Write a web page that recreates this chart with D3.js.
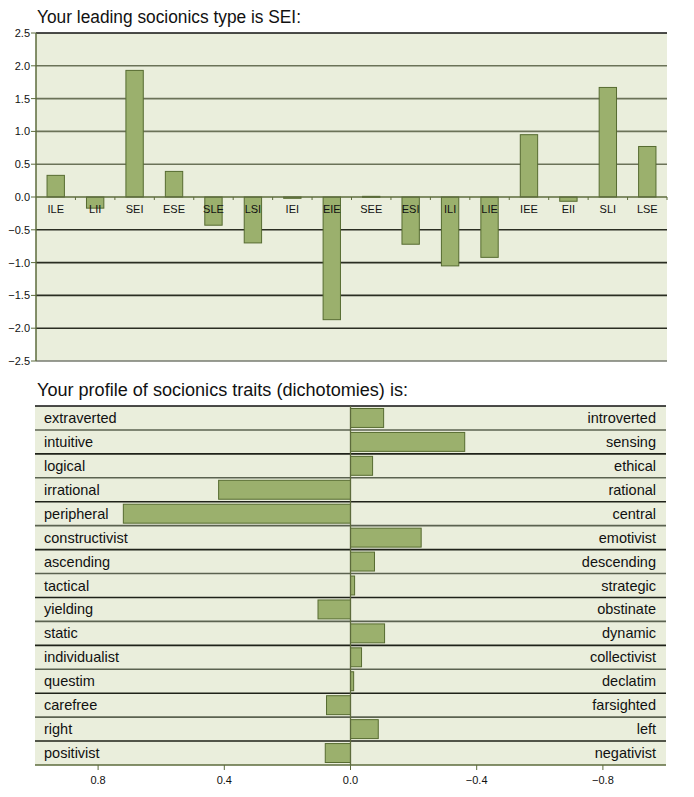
<!DOCTYPE html>
<html>
<head>
<meta charset="utf-8">
<script src="https://cdn.jsdelivr.net/npm/d3@7/dist/d3.min.js"></script>
<style>
  body { margin: 0; background: #fff; }
  svg { display: block; font-family: "Liberation Sans", Arial, sans-serif; }
</style>
</head>
<body>
<div id="chart"></div>
<script>
const types = ["ILE", "LII", "SEI", "ESE", "SLE", "LSI", "IEI", "EIE", "SEE", "ESI", "ILI", "LIE", "IEE", "EII", "SLI", "LSE"];
const typeScores = [0.33, -0.17, 1.93, 0.39, -0.43, -0.70, -0.02, -1.87, 0.01, -0.72, -1.05, -0.92, 0.95, -0.065, 1.67, 0.77];
const typeTicks = [2.5, 2.0, 1.5, 1.0, 0.5, 0.0, -0.5, -1.0, -1.5, -2.0, -2.5];

const leftTraits = ["extraverted", "intuitive", "logical", "irrational", "peripheral", "constructivist", "ascending", "tactical", "yielding", "static", "individualist", "questim", "carefree", "right", "positivist"];
const rightTraits = ["introverted", "sensing", "ethical", "rational", "central", "emotivist", "descending", "strategic", "obstinate", "dynamic", "collectivist", "declatim", "farsighted", "left", "negativist"];
const traitScores = [-0.105, -0.362, -0.07, 0.418, 0.72, -0.224, -0.076, -0.013, 0.103, -0.108, -0.035, -0.01, 0.076, -0.088, 0.08];
const traitTicks = [0.8, 0.4, 0.0, -0.4, -0.8];

const W = 694, H = 797;
const bg = "#eaeedc", barFill = "#9bb06d", barStroke = "#566b30", axisCol = "#5d6b3c";

const svg = d3.select("#chart").append("svg").attr("width", W).attr("height", H);

// ---- top chart: type scores
const tp = { l: 36, r: 667, t: 33, b: 361 };
svg.append("text").attr("x", 37).attr("y", 23).attr("font-size", 17.5).attr("fill", "#111")
  .attr("textLength", 264).attr("lengthAdjust", "spacingAndGlyphs")
  .text("Your leading socionics type is SEI:");

const x1 = d3.scaleBand().domain(types).range([tp.l, tp.r]).paddingInner(0.56).paddingOuter(0.28);
const xb = d3.scaleBand().domain(types).range([tp.l, tp.r]);
const y1 = d3.scaleLinear().domain([-2.5, 2.5]).range([tp.b, tp.t]);

svg.append("rect").attr("x", tp.l).attr("y", tp.t).attr("width", tp.r - tp.l).attr("height", tp.b - tp.t).attr("fill", bg);

svg.append("g").selectAll("line").data(typeTicks.filter((d) => d !== 0 && d !== 2.5 && d !== -2.5)).join("line")
  .attr("x1", tp.l).attr("x2", tp.r).attr("y1", (d) => y1(d)).attr("y2", (d) => y1(d))
  .attr("stroke", (d) => d > 0 ? "#6b7258" : "#2a2d22").attr("stroke-width", 1.6);
svg.append("line").attr("x1", tp.l).attr("x2", tp.r).attr("y1", y1(2.5)).attr("y2", y1(2.5)).attr("stroke", "#111").attr("stroke-width", 1.3);
svg.append("line").attr("x1", tp.l).attr("x2", tp.r).attr("y1", y1(-2.5)).attr("y2", y1(-2.5)).attr("stroke", "#777b70").attr("stroke-width", 1.6);

svg.append("g").selectAll("rect").data(types).join("rect")
  .attr("x", (d) => x1(d)).attr("width", x1.bandwidth())
  .attr("y", (d, i) => y1(Math.max(0, typeScores[i])))
  .attr("height", (d, i) => Math.max(1, Math.abs(y1(typeScores[i]) - y1(0))))
  .attr("fill", barFill).attr("stroke", barStroke).attr("stroke-width", 1);

// zero axis with band ticks
svg.append("line").attr("x1", tp.l).attr("x2", tp.r).attr("y1", y1(0)).attr("y2", y1(0)).attr("stroke", axisCol).attr("stroke-width", 1.3);
svg.append("g").selectAll("line").data(types).join("line")
  .attr("x1", (d) => xb(d) + xb.bandwidth()).attr("x2", (d) => xb(d) + xb.bandwidth())
  .attr("y1", y1(0)).attr("y2", y1(0) + 3).attr("stroke", axisCol);

svg.append("g").selectAll("text").data(types).join("text")
  .attr("x", (d) => xb(d) + xb.bandwidth() / 2).attr("y", y1(0) + 16)
  .attr("text-anchor", "middle").attr("font-size", 11).attr("fill", "#111").text((d) => d);

// left axis
svg.append("line").attr("x1", tp.l).attr("x2", tp.l).attr("y1", tp.t).attr("y2", tp.b).attr("stroke", axisCol).attr("stroke-width", 1.5);
const yAx = svg.append("g").selectAll("g").data(typeTicks).join("g");
yAx.append("line").attr("x1", tp.l - 5).attr("x2", tp.l).attr("y1", (d) => y1(d)).attr("y2", (d) => y1(d)).attr("stroke", axisCol);
yAx.append("text").attr("x", tp.l - 6).attr("y", (d) => y1(d) + 4).attr("text-anchor", "end")
  .attr("font-size", 11).attr("fill", "#111").text((d) => d3.format(".1f")(d));

// ---- bottom chart: dichotomies
const bt = { l: 35, r: 666, t: 406, b: 765 };
svg.append("text").attr("x", 37).attr("y", 396).attr("font-size", 17.5).attr("fill", "#111")
  .attr("textLength", 371).attr("lengthAdjust", "spacingAndGlyphs")
  .text("Your profile of socionics traits (dichotomies) is:");

const x2 = d3.scaleLinear().domain([1, -1]).range([bt.l, bt.r]);
const y2 = d3.scaleBand().domain(leftTraits).range([bt.t, bt.b]);

svg.append("rect").attr("x", bt.l).attr("y", bt.t).attr("width", bt.r - bt.l).attr("height", bt.b - bt.t).attr("fill", bg);

svg.append("g").selectAll("line").data(leftTraits.slice(1)).join("line")
  .attr("x1", bt.l).attr("x2", bt.r).attr("y1", (d) => y2(d)).attr("y2", (d) => y2(d))
  .attr("stroke", (d, i) => i % 2 ? "#1f2219" : "#5b6250").attr("stroke-width", 1.6);
svg.append("line").attr("x1", bt.l).attr("x2", bt.r).attr("y1", bt.t).attr("y2", bt.t).attr("stroke", "#111").attr("stroke-width", 1.3);

svg.append("g").selectAll("rect").data(leftTraits).join("rect")
  .attr("x", (d, i) => Math.min(x2(traitScores[i]), x2(0)))
  .attr("width", (d, i) => Math.abs(x2(traitScores[i]) - x2(0)))
  .attr("y", (d) => y2(d) + 2.5).attr("height", y2.bandwidth() - 5)
  .attr("fill", barFill).attr("stroke", barStroke).attr("stroke-width", 1);

svg.append("line").attr("x1", x2(0)).attr("x2", x2(0)).attr("y1", bt.t).attr("y2", bt.b).attr("stroke", axisCol).attr("stroke-width", 1.3);

svg.append("g").selectAll("text").data(leftTraits).join("text")
  .attr("x", 44).attr("y", (d) => y2(d) + y2.bandwidth() / 2 + 5)
  .attr("font-size", 14.5).attr("fill", "#111").text((d) => d);
svg.append("g").selectAll("text").data(rightTraits).join("text")
  .attr("x", 656).attr("y", (d, i) => y2(leftTraits[i]) + y2.bandwidth() / 2 + 5).attr("text-anchor", "end")
  .attr("font-size", 14.5).attr("fill", "#111").text((d) => d);

// bottom axis
svg.append("line").attr("x1", bt.l).attr("x2", bt.r).attr("y1", bt.b).attr("y2", bt.b).attr("stroke", axisCol).attr("stroke-width", 1.5);
const xAx = svg.append("g").selectAll("g").data(traitTicks).join("g");
xAx.append("line").attr("x1", (d) => x2(d)).attr("x2", (d) => x2(d)).attr("y1", bt.b).attr("y2", bt.b + 5).attr("stroke", axisCol);
xAx.append("text").attr("x", (d) => x2(d)).attr("y", bt.b + 19).attr("text-anchor", "middle")
  .attr("font-size", 11).attr("fill", "#111").text((d) => d3.format(".1f")(d));
</script>
</body>
</html>
